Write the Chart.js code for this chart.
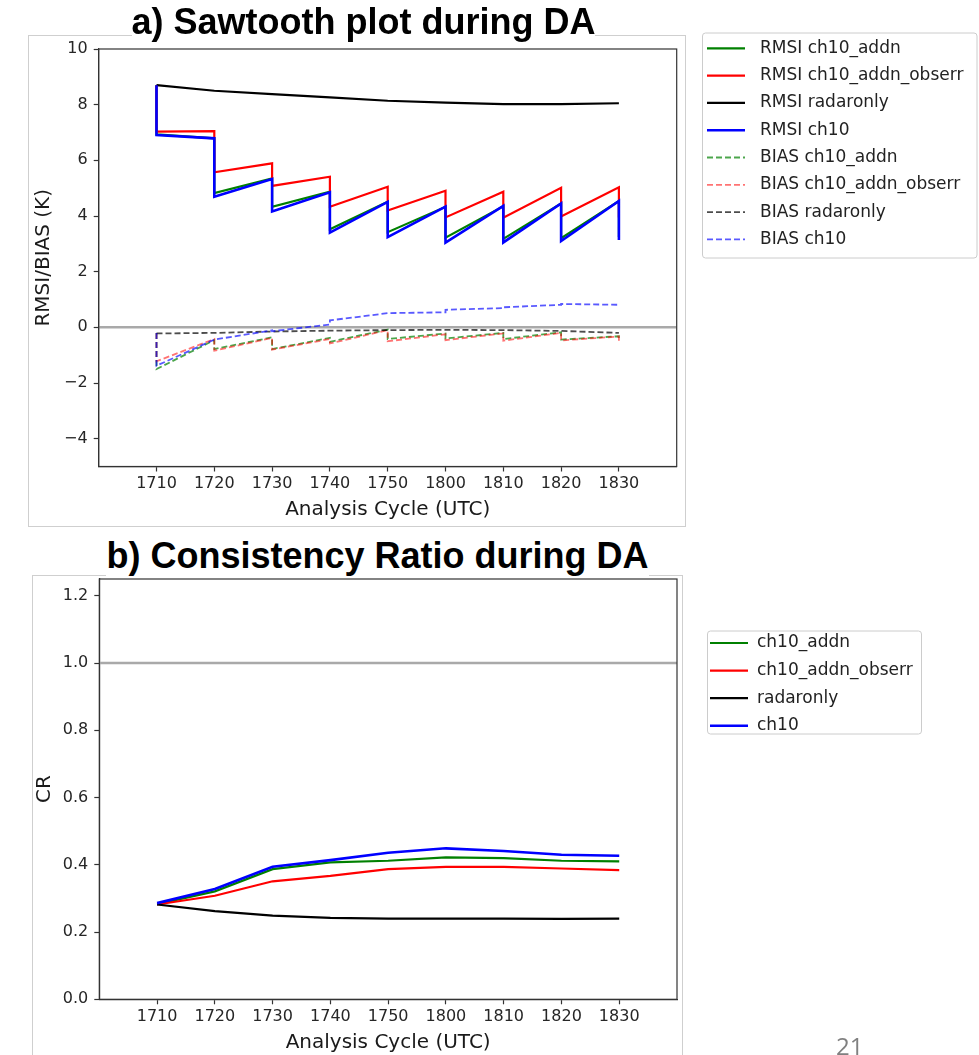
<!DOCTYPE html>
<html>
<head>
<meta charset="utf-8">
<script src="https://cdn.jsdelivr.net/npm/chart.js@4.4.1/dist/chart.umd.min.js"></script>
<style>
  body { margin: 0; background: #fff; width: 979px; height: 1055px; position: relative; overflow: hidden; }
  .frame { position: absolute; border: 1px solid #cfcfcf; }
  canvas { position: absolute; left: 0; }
  .ttl { position: absolute; left: 0; text-align: center; font-family: 'Liberation Sans', Arial, sans-serif;
         font-weight: bold; font-size: 36px; line-height: 40px; color: #000; }
  .ttl span { background: #fff; }
  #pg { position: absolute; left: 836px; top: 1029px; font-family: 'Open Sans', sans-serif; font-size: 24px; color: #808080; }
</style>
</head>
<body>
<div class="frame" style="left:28px;top:35px;width:656px;height:490px"></div>
<div class="frame" style="left:32px;top:575px;width:649px;height:500px"></div>
<canvas id="sawChart" width="979" height="530" style="top:0"></canvas>
<canvas id="crChart" width="979" height="525" style="top:530px"></canvas>
<div class="ttl" style="top:2px;width:727px"><span>a) Sawtooth plot during DA</span></div>
<div class="ttl" style="top:536px;width:755px"><span>b) Consistency Ratio during DA</span></div>
<div id="pg">21</div>

<script>
// analysis cycles (x axis)
const cycles = ['1710', '1720', '1730', '1740', '1750', '1800', '1810', '1820', '1830'];
const xMin = -1;
const xMax = 9;

// RMSI (K): forecast value before each analysis, then analysis value
const rmsiAddnFcst   = [8.70, 6.79, 5.35, 4.87, 4.51, 4.33, 4.35, 4.45, 4.54];
const rmsiAddnAnl    = [6.93, 4.82, 4.33, 3.52, 3.42, 3.22, 3.18, 3.20, 3.25];
const rmsiObserrFcst = [8.70, 7.05, 5.89, 5.41, 5.05, 4.91, 4.87, 5.01, 5.03];
const rmsiObserrAnl  = [7.03, 5.57, 5.08, 4.33, 4.20, 3.95, 3.94, 3.98, 3.95];
const rmsiRadar      = [8.70, 8.50, 8.38, 8.26, 8.14, 8.07, 8.02, 8.02, 8.05];
const rmsiCh10Fcst   = [8.70, 6.79, 5.33, 4.85, 4.51, 4.34, 4.36, 4.45, 4.54];
const rmsiCh10Anl    = [6.91, 4.69, 4.16, 3.40, 3.24, 3.04, 3.05, 3.10, 3.14];

// BIAS (K)
const biasAddnFcst   = [-0.20, -0.46, -0.36, -0.38, -0.08, -0.22, -0.20, -0.18, -0.32];
const biasAddnAnl    = [-1.50, -0.78, -0.78, -0.52, -0.42, -0.40, -0.42, -0.44, -0.45];
const biasObserrFcst = [-0.20, -0.42, -0.38, -0.42, -0.10, -0.25, -0.22, -0.20, -0.33];
const biasObserrAnl  = [-1.22, -0.84, -0.80, -0.58, -0.50, -0.46, -0.48, -0.47, -0.52];
const biasRadar      = [-0.22, -0.20, -0.15, -0.12, -0.10, -0.09, -0.10, -0.13, -0.20];
const biasCh10Fcst   = [-0.20, -0.44, -0.11, 0.10, 0.51, 0.54, 0.69, 0.81, 0.81];
const biasCh10Anl    = [-1.38, -0.44, -0.14, 0.25, 0.51, 0.63, 0.72, 0.84, 0.81];

// consistency ratio
const crAddn   = [0.283, 0.321, 0.387, 0.407, 0.412, 0.422, 0.420, 0.412, 0.410];
const crObserr = [0.282, 0.308, 0.351, 0.367, 0.387, 0.394, 0.394, 0.389, 0.384];
const crRadar  = [0.282, 0.262, 0.249, 0.242, 0.240, 0.240, 0.240, 0.239, 0.240];
const crCh10   = [0.286, 0.328, 0.394, 0.414, 0.436, 0.449, 0.441, 0.430, 0.427];

// tick values and reference lines
const sawYTicks = [-4, -2, 0, 2, 4, 6, 8, 10];
const crYTicks = [0, 0.2, 0.4, 0.6, 0.8, 1.0, 1.2];
const sawRef = 0;
const crRef = 1.0;

const GREEN = '#008000', RED = '#ff0000', BLACK = '#000000', BLUE = '#0000ff';

// helpers: sawtooth = forecast then analysis at the same cycle
function saw(fc, an) {
    return fc.flatMap((f, i) => [{ x: i, y: f }, { x: i, y: an[i] }]);
}
function line(vals) {
    return vals.map((y, i) => ({ x: i, y }));
}
function refLine(y) {
    return [{ x: xMin, y }, { x: xMax, y }];
}

const tickFont = { family: "'DejaVu Sans', sans-serif", size: 16 };
const labelFont = { family: "'DejaVu Sans', sans-serif", size: 20 };

// axes frame (top + right spines)
const frame = {
    id: 'frame',
    afterDatasetsDraw(chart) {
        const { ctx, chartArea: a } = chart;
        ctx.save();
        ctx.strokeStyle = '#333';
        ctx.lineWidth = 1.2;
        ctx.strokeRect(a.left, a.top, a.right - a.left, a.bottom - a.top);
        ctx.restore();
    }
};

// matplotlib-like legend box outside the axes
const boxLegend = {
    id: 'boxLegend',
    afterDraw(chart, args, o) {
        const ctx = chart.ctx;
        ctx.save();
        ctx.beginPath();
        if (ctx.roundRect) ctx.roundRect(o.x, o.y, o.w, o.h, 3);
        else ctx.rect(o.x, o.y, o.w, o.h);
        ctx.fillStyle = 'rgba(255,255,255,0.8)';
        ctx.fill();
        ctx.strokeStyle = '#cccccc';
        ctx.lineWidth = 1;
        ctx.stroke();
        let y = o.rowY;
        chart.data.datasets.forEach(ds => {
            if (!ds.label) return;
            ctx.beginPath();
            ctx.setLineDash(ds.borderDash || []);
            ctx.strokeStyle = ds.borderColor;
            ctx.lineWidth = ds.borderWidth;
            ctx.moveTo(o.lineX0, y);
            ctx.lineTo(o.lineX1, y);
            ctx.stroke();
            ctx.setLineDash([]);
            ctx.fillStyle = '#222';
            ctx.font = o.font;
            ctx.textBaseline = 'middle';
            ctx.textAlign = 'left';
            ctx.fillText(ds.label, o.textX, y);
            y += o.rowStep;
        });
        ctx.restore();
    }
};

function xScale(height, titlePad) {
    return {
        type: 'linear',
        min: xMin,
        max: xMax,
        afterBuildTicks: s => { s.ticks = cycles.map((c, i) => ({ value: i })); },
        afterFit: s => { s.height = height; },
        ticks: { callback: v => cycles[v], font: tickFont, color: '#262626', padding: 3, maxRotation: 0, autoSkip: false },
        grid: { drawOnChartArea: false, drawTicks: true, tickLength: 5, tickColor: '#333', tickWidth: 1.2 },
        border: { display: true, color: '#333', width: 1.2 },
        title: { display: true, text: 'Analysis Cycle (UTC)', font: labelFont, color: '#1a1a1a', padding: { top: 0, bottom: titlePad } }
    };
}

function yScale(min, max, ticks, fmt, title, width, titlePad) {
    return {
        type: 'linear',
        min, max,
        afterBuildTicks: s => { s.ticks = ticks.map(v => ({ value: v })); },
        afterFit: s => { s.width = width; },
        ticks: { callback: fmt, font: tickFont, color: '#262626', padding: 6 },
        grid: { drawOnChartArea: false, drawTicks: true, tickLength: 5, tickColor: '#333', tickWidth: 1.2 },
        border: { display: true, color: '#333', width: 1.2 },
        title: { display: true, text: title, font: labelFont, color: '#1a1a1a', padding: { top: titlePad, bottom: 0 } }
    };
}

function ds(label, data, color, width, dash, order) {
    return {
        label, data,
        borderColor: color,
        borderWidth: width,
        borderDash: dash || [],
        pointRadius: 0,
        tension: 0,
        fill: false,
        order
    };
}

const common = {
    responsive: false,
    animation: false,
    events: [],
    parsing: true
};

new Chart(document.getElementById('sawChart'), {
    type: 'line',
    data: {
        datasets: [
            ds('RMSI ch10_addn', saw(rmsiAddnFcst, rmsiAddnAnl), GREEN, 2.2, null, 8),
            ds('RMSI ch10_addn_obserr', saw(rmsiObserrFcst, rmsiObserrAnl), RED, 2.2, null, 7),
            ds('RMSI radaronly', line(rmsiRadar), BLACK, 2.2, null, 6),
            ds('RMSI ch10', saw(rmsiCh10Fcst, rmsiCh10Anl), BLUE, 2.6, null, 5),
            ds('BIAS ch10_addn', saw(biasAddnFcst, biasAddnAnl), 'rgba(0,128,0,0.7)', 1.8, [6, 3], 4),
            ds('BIAS ch10_addn_obserr', saw(biasObserrFcst, biasObserrAnl), 'rgba(255,0,0,0.55)', 1.8, [6, 3], 3),
            ds('BIAS radaronly', line(biasRadar), 'rgba(0,0,0,0.7)', 1.8, [6, 3], 2),
            ds('BIAS ch10', saw(biasCh10Fcst, biasCh10Anl), 'rgba(0,0,255,0.65)', 1.8, [6, 3], 1),
            ds(undefined, refLine(sawRef), '#a9a9a9', 2.5, null, 10)
        ]
    },
    options: {
        ...common,
        layout: { padding: { left: 28, top: 49, right: 302.3, bottom: 0 } },
        scales: {
            x: xScale(63.5, 8),
            y: yScale(-5, 10, sawYTicks, v => (v < 0 ? '\u2212' + Math.abs(v) : String(v)), 'RMSI/BIAS (K)', 70.7, 4)
        },
        plugins: {
            legend: { display: false },
            tooltip: { enabled: false },
            boxLegend: {
                x: 702.5, y: 33, w: 274.5, h: 225,
                lineX0: 707, lineX1: 745, textX: 760,
                rowY: 48.3, rowStep: 27.3,
                font: "17px 'DejaVu Sans', sans-serif"
            }
        }
    },
    plugins: [frame, boxLegend]
});

new Chart(document.getElementById('crChart'), {
    type: 'line',
    data: {
        datasets: [
            ds('ch10_addn', line(crAddn), GREEN, 2.2, null, 4),
            ds('ch10_addn_obserr', line(crObserr), RED, 2.2, null, 3),
            ds('radaronly', line(crRadar), BLACK, 2.2, null, 2),
            ds('ch10', line(crCh10), BLUE, 2.6, null, 1),
            ds(undefined, refLine(crRef), '#a9a9a9', 2.5, null, 10)
        ]
    },
    options: {
        ...common,
        layout: { padding: { left: 30, top: 49, right: 302, bottom: 0 } },
        scales: {
            x: xScale(55.7, 0),
            y: yScale(0, 1.25, crYTicks, v => v.toFixed(1), 'CR', 69.3, 3)
        },
        plugins: {
            legend: { display: false },
            tooltip: { enabled: false },
            boxLegend: {
                x: 707.5, y: 101, w: 214, h: 103,
                lineX0: 710, lineX1: 748, textX: 757,
                rowY: 113, rowStep: 27.6,
                font: "17px 'DejaVu Sans', sans-serif"
            }
        }
    },
    plugins: [frame, boxLegend]
});
</script>
</body>
</html>
